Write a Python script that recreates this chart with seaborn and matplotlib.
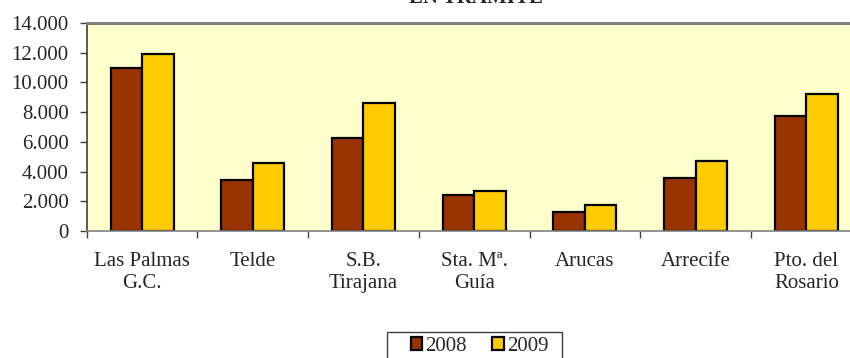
import seaborn as sns
import matplotlib.pyplot as plt
import matplotlib.ticker as mticker
import numpy as np
import pandas as pd

municipios = ['Las Palmas\nG.C.', 'Telde', 'S.B.\nTirajana', 'Sta. Mª.\nGuía',
              'Arucas', 'Arrecife', 'Pto. del\nRosario']
valores_2008 = [10970, 3430, 6260, 2400, 1260, 3570, 7720]
valores_2009 = [11910, 4580, 8630, 2710, 1750, 4730, 9200]
anios = ['2008', '2009']
colores = ['#993300', '#FFCC00']

df = pd.DataFrame({
    'municipio': municipios * 2,
    'valor': valores_2008 + valores_2009,
    'anio': [anios[0]] * len(municipios) + [anios[1]] * len(municipios),
})

sns.set_style('ticks')
plt.rcParams['font.family'] = ['Liberation Serif', 'DejaVu Serif']
plt.rcParams['font.size'] = 15

fig = plt.figure(figsize=(8.5, 3.58), dpi=100)
ax = fig.add_axes([86.7 / 850, 127 / 358, 775 / 850, 208 / 358])
ax.set_facecolor('#FFFFCC')

sns.barplot(data=df, x='municipio', y='valor', hue='anio', palette=colores,
            saturation=1, width=0.57, edgecolor='black', linewidth=1.6, ax=ax, legend=False)

ax.set_xlim(-0.5, 6.5)
ax.set_ylim(0, 14000)
ax.set_yticks(np.arange(0, 14001, 2000))
ax.yaxis.set_major_formatter(mticker.FuncFormatter(lambda v, p: f'{int(v):,}'.replace(',', '.')))
ax.set_xlabel('')
ax.set_ylabel('')

# marcas del eje x entre categorías
ax.set_xticks(np.arange(-0.5, 7, 1), minor=True)
ax.tick_params(axis='x', which='major', length=0, pad=15)
ax.tick_params(axis='x', which='minor', length=5, width=1, color='#404040', direction='out')
ax.tick_params(axis='y', length=5, width=1, color='#404040', direction='out', pad=8)
for lbl in ax.get_xticklabels():
    lbl.set_linespacing(1.25)

ax.spines['top'].set_color('#808080')
ax.spines['top'].set_linewidth(2.2)
ax.spines['left'].set_color('#404040')
ax.spines['left'].set_linewidth(1.2)
ax.spines['bottom'].set_color('#808080')
ax.spines['bottom'].set_linewidth(1.2)
ax.spines['right'].set_visible(False)

fig.text(476 / 850, 1 - 3 / 358, 'EN TRAMITE', ha='center', va='baseline',
         fontweight='bold', fontsize=15)

# leyenda sin marco propio; el marco se dibuja aparte
handles = [plt.Rectangle((0, 0), 1, 1, facecolor=c, edgecolor='black', linewidth=1.6)
           for c in colores]
fig.legend(handles, anios, loc='upper left', bbox_to_anchor=(411 / 850, 1 - 337 / 358),
           ncol=2, frameon=False, handlelength=0.55, handleheight=0.55,
           handletextpad=0.15, columnspacing=1.2, borderpad=0, borderaxespad=0)
fig.patches.append(plt.Rectangle((387 / 850, -0.05), 175 / 850, (358 - 331.7) / 358 + 0.05,
                                 transform=fig.transFigure, facecolor='none',
                                 edgecolor='#404040', linewidth=1.0, clip_on=False))

fig.savefig('out.png', dpi=100)
